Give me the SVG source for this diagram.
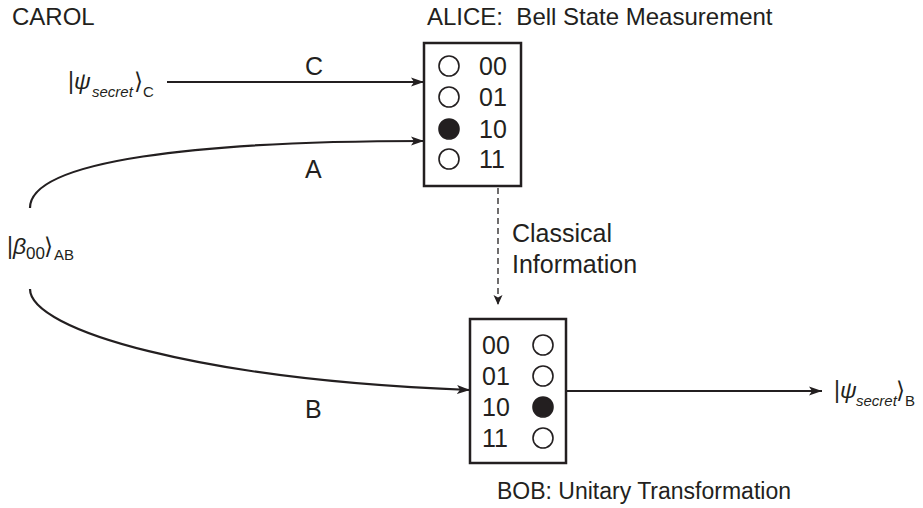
<svg xmlns="http://www.w3.org/2000/svg" width="923" height="508" viewBox="0 0 923 508">
<defs>
<style>
text{font-family:"Liberation Sans","DejaVu Sans",Arial,sans-serif;fill:#231f20}
.t{font-size:23px}
.h{font-size:24px}
.d{font-size:25px}
.sub{font-size:15px}
.it{font-style:italic}
.box{fill:#fff;stroke:#231f20;stroke-width:2.5}
.o{fill:#fff;stroke:#231f20;stroke-width:1.6}
.f{fill:#231f20;stroke:#231f20;stroke-width:1.6}
.ln{fill:none;stroke:#231f20;stroke-width:2.2}
.dash{fill:none;stroke:#231f20;stroke-width:1.3;stroke-dasharray:6 4}
</style>
<marker id="ah" markerUnits="userSpaceOnUse" markerWidth="14" markerHeight="10" refX="13" refY="5" orient="auto">
<path d="M0,0.5 L13,5 L0,9.5 L3,5 z" fill="#231f20"/>
</marker>
<marker id="ahs" markerUnits="userSpaceOnUse" markerWidth="11" markerHeight="10" refX="10" refY="5" orient="auto">
<path d="M0,0.5 L10,5 L0,9.5 L2.5,5 z" fill="#231f20"/>
</marker>
</defs>

<g id="labels">
<text class="h" x="12" y="25">CAROL</text>
<text class="h" x="427" y="25" xml:space="preserve">ALICE:  Bell State Measurement</text>
<text class="t" x="497" y="499">BOB: Unitary Transformation</text>
</g>

<g id="connectors">
<line class="ln" x1="167" y1="82" x2="424" y2="82" marker-end="url(#ah)"/>
<path class="ln" d="M30,208 C30,160 200,141 424,141" marker-end="url(#ah)"/>
<path class="ln" d="M30,289 C30,330 200,380 470,390" marker-end="url(#ah)"/>
<line class="ln" x1="566" y1="391" x2="822" y2="391" marker-end="url(#ah)"/>
<line class="dash" x1="498" y1="188" x2="498" y2="305" marker-end="url(#ahs)"/>
<text class="d" x="305" y="75">C</text>
<text class="d" x="305" y="178">A</text>
<text class="d" x="305" y="418">B</text>
<text class="d" x="512" y="242">Classical</text>
<text class="d" x="512" y="273">Information</text>
</g>

<g id="psi-in">
<text class="t" x="68" y="89">|<tspan class="it">ψ</tspan><tspan class="sub it" x="92" y="97">secret</tspan><tspan x="134" y="89">⟩</tspan><tspan class="sub" x="143" y="97">C</tspan></text>
</g>

<g id="beta">
<text class="t" x="7" y="254">|<tspan class="it">β</tspan><tspan x="26" y="259" style="font-size:17px">00</tspan><tspan x="44" y="254">⟩</tspan><tspan x="54" y="260" style="font-size:15px">AB</tspan></text>
</g>

<g id="psi-out">
<text class="t" x="834" y="398">|<tspan class="it">ψ</tspan><tspan class="sub it" x="856" y="406">secret</tspan><tspan x="896" y="398">⟩</tspan><tspan class="sub" x="905" y="406">B</tspan></text>
</g>

<g id="alice">
<rect class="box" x="424" y="43" width="97" height="143"/>
<circle class="o" cx="449" cy="66" r="10"/>
<circle class="o" cx="449" cy="97" r="10"/>
<circle class="f" cx="449" cy="129" r="10"/>
<circle class="o" cx="449" cy="159" r="10"/>
<text class="d" x="479" y="75">00</text>
<text class="d" x="479" y="106">01</text>
<text class="d" x="479" y="138">10</text>
<text class="d" x="479" y="168">11</text>
</g>

<g id="bob">
<rect class="box" x="470" y="319" width="96" height="144"/>
<circle class="o" cx="543" cy="345" r="10"/>
<circle class="o" cx="543" cy="376" r="10"/>
<circle class="f" cx="543" cy="407" r="10"/>
<circle class="o" cx="543" cy="438" r="10"/>
<text class="d" x="482" y="354">00</text>
<text class="d" x="482" y="385">01</text>
<text class="d" x="482" y="416">10</text>
<text class="d" x="482" y="447">11</text>
</g>
</svg>
